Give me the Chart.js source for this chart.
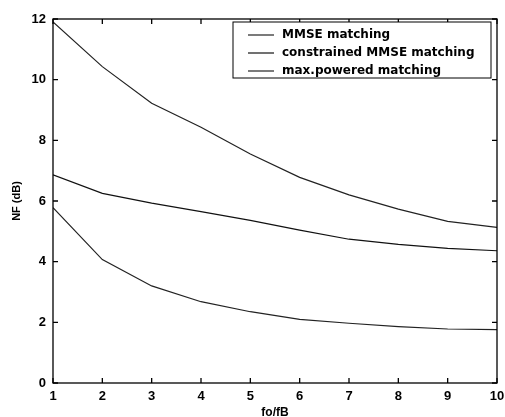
<!DOCTYPE html>
<html>
<head>
<meta charset="utf-8">
<script src="https://cdn.jsdelivr.net/npm/chart.js@4.4.1/dist/chart.umd.min.js"></script>
<style>
html, body { margin: 0; padding: 0; background: #fff; }
#wrap { width: 505px; height: 417px; }
</style>
</head>
<body>
<div id="wrap"><canvas id="nfChart"></canvas></div>
<script>
var ratios = [1, 2, 3, 4, 5, 6, 7, 8, 9, 10];
var mmse = [5.78, 4.07, 3.2, 2.68, 2.35, 2.1, 1.97, 1.86, 1.78, 1.76];
var constrainedMmse = [6.86, 6.25, 5.93, 5.65, 5.36, 5.04, 4.74, 4.57, 4.44, 4.36];
var maxPowered = [11.9, 10.43, 9.22, 8.43, 7.55, 6.78, 6.2, 5.73, 5.33, 5.13];
var seriesNames = ['MMSE matching', 'constrained MMSE matching', 'max.powered matching'];

function pts(vals) {
  return ratios.map(function (r, i) { return { x: r, y: vals[i] }; });
}

var font = 'Liberation Sans, Arial, sans-serif';

// MATLAB-like box with inward ticks on all four sides
var frame = {
  id: 'frame',
  afterDatasetsDraw: function (chart) {
    var a = chart.chartArea, c = chart.ctx;
    var xs = chart.scales.x, ys = chart.scales.y;
    c.save();
    c.strokeStyle = '#000';
    c.lineWidth = 1.3;
    c.strokeRect(a.left, a.top, a.right - a.left, a.bottom - a.top);
    c.beginPath();
    xs.ticks.forEach(function (t, i) {
      var px = xs.getPixelForTick(i);
      c.moveTo(px, a.bottom); c.lineTo(px, a.bottom - 5);
      c.moveTo(px, a.top); c.lineTo(px, a.top + 5);
    });
    ys.ticks.forEach(function (t, i) {
      var py = ys.getPixelForTick(i);
      c.moveTo(a.left, py); c.lineTo(a.left + 5, py);
      c.moveTo(a.right, py); c.lineTo(a.right - 5, py);
    });
    c.stroke();
    c.restore();
  }
};

// legend box inside the plot, upper right
var boxLegend = {
  id: 'boxLegend',
  afterDraw: function (chart) {
    var a = chart.chartArea, c = chart.ctx;
    var w = 258, h = 56;
    var x0 = a.right - 6 - w, y0 = a.top + 3;
    c.save();
    c.fillStyle = '#fff';
    c.fillRect(x0, y0, w, h);
    c.strokeStyle = '#000';
    c.lineWidth = 1;
    c.strokeRect(x0, y0, w, h);
    c.font = 'bold 12px "DejaVu Sans", sans-serif';
    c.textBaseline = 'middle';
    c.fillStyle = '#000';
    chart.data.datasets.forEach(function (ds, i) {
      var y = y0 + 13 + i * 18;
      c.beginPath();
      c.strokeStyle = ds.borderColor;
      c.lineWidth = 1.2;
      c.moveTo(x0 + 15, y); c.lineTo(x0 + 41, y);
      c.stroke();
      c.fillText(ds.label, x0 + 49, y);
    });
    c.restore();
  }
};

var ctx = document.getElementById('nfChart');

var myChart = new Chart(ctx, {
  type: 'line',
  data: {
    datasets: [
      { label: seriesNames[0], data: pts(mmse), borderColor: '#222', borderWidth: 1.2, pointRadius: 0, tension: 0 },
      { label: seriesNames[1], data: pts(constrainedMmse), borderColor: '#111', borderWidth: 1.2, pointRadius: 0, tension: 0 },
      { label: seriesNames[2], data: pts(maxPowered), borderColor: '#222', borderWidth: 1.2, pointRadius: 0, tension: 0 }
    ]
  },
  options: {
    responsive: true,
    maintainAspectRatio: false,
    animation: false,
    layout: { padding: { top: 19, right: 8, left: 0, bottom: 0 } },
    plugins: {
      legend: { display: false },
      tooltip: { enabled: false }
    },
    scales: {
      x: {
        type: 'linear',
        min: 1,
        max: 10,
        ticks: { stepSize: 1, color: '#000', padding: 6, font: { family: font, size: 13, weight: 'bold' } },
        grid: { drawOnChartArea: false, drawTicks: false },
        border: { display: false },
        title: { display: true, text: 'fo/fB', color: '#000', padding: { top: 0, bottom: -3 }, font: { family: font, size: 12, weight: 'bold' } },
        afterFit: function (s) { s.height = 34; s.paddingLeft = 0; s.paddingRight = 0; }
      },
      y: {
        min: 0,
        max: 12,
        ticks: { stepSize: 2, color: '#000', padding: 7, font: { family: font, size: 13, weight: 'bold' } },
        grid: { drawOnChartArea: false, drawTicks: false },
        border: { display: false },
        title: { display: true, text: 'NF (dB)', color: '#000', padding: { top: 10, bottom: 0 }, font: { family: font, size: 11, weight: 'bold' } },
        afterFit: function (s) { s.width = 53; s.paddingTop = 0; s.paddingBottom = 0; }
      }
    }
  },
  plugins: [frame, boxLegend]
});
</script>
</body>
</html>
